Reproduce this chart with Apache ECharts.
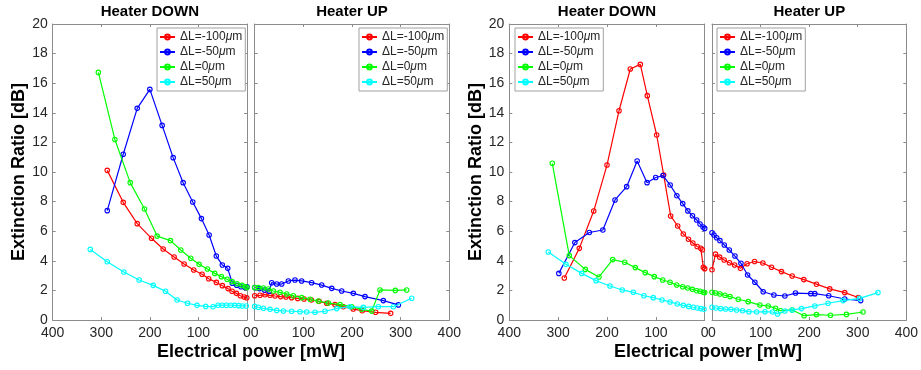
<!DOCTYPE html>
<html>
<head>
<meta charset="utf-8">
<script src="https://cdn.jsdelivr.net/npm/echarts@6/dist/echarts.min.js"></script>
<style>
html,body{margin:0;padding:0;background:#fff;}
#c{width:921px;height:370px;}
</style>
</head>
<body>
<div id="c"></div>
<script>
// ---- data: [electrical power (mW), extinction ratio (dB)] ----
const seriesNames = ['ΔL=-100μm', 'ΔL=-50μm', 'ΔL=0μm', 'ΔL=50μm'];
const panelTitles = ['Heater DOWN', 'Heater UP', 'Heater DOWN', 'Heater UP'];
const xTickValues = [0, 100, 200, 300, 400];
const yTickValues = [0, 2, 4, 6, 8, 10, 12, 14, 16, 18, 20];

// Figure A, heater DOWN
const aDownRed = [[287.7,10.11],[254.8,7.95],[226,6.51],[196.6,5.52],[172.6,4.8],[150,4.26],[129.5,3.78],[109.6,3.38],[92.5,3.09],[78.8,2.79],[63,2.54],[50.7,2.32],[39,2.12],[30.8,1.94],[21.9,1.8],[13.7,1.64],[5.5,1.55],[0.5,1.5]];
const aDownBlue = [[287.7,7.39],[254.8,11.2],[226,14.3],[200,15.58],[174.7,13.15],[152,10.97],[131.5,9.28],[111.7,7.97],[93.8,6.85],[78,5.74],[63.2,4.32],[50.8,3.72],[39.7,3.49],[30.2,2.48],[21.2,2.35],[12.4,2.25],[4,2.2],[0,2.25]];
const aDownGreen = [[306,16.73],[272,12.2],[240.4,9.28],[211,7.5],[185,5.67],[157.5,5.36],[136.3,4.73],[115.8,4.17],[98.6,3.76],[81.5,3.45],[66.4,3.15],[52.7,2.93],[41,2.75],[30.8,2.59],[20.5,2.45],[10.3,2.34],[3.4,2.25],[0,2.2]];
const aDownCyan = [[322.6,4.77],[287.7,3.94],[253.5,3.24],[222,2.7],[193,2.34],[167.8,1.94],[143.9,1.35],[122.6,1.13],[102.8,0.99],[85,0.92],[70,0.9],[59.6,1.0],[50.7,1.0],[42.5,1.0],[33.6,1.0],[25.3,0.99],[17,0.97],[9.6,0.95],[1.4,0.95]];
// Figure A, heater UP
const aUpRed = [[0,1.64],[11,1.67],[21.2,1.71],[31.5,1.67],[41.8,1.62],[53.4,1.58],[64.4,1.55],[76,1.51],[88.4,1.46],[101.4,1.42],[116.5,1.35],[132.3,1.26],[148,1.13],[165,1.04],[182,0.9],[202.5,0.74],[221,0.63],[248.6,0.52],[279.5,0.45]];
const aUpBlue = [[0,2.2],[10,2.12],[20,2.03],[30,1.95],[34.9,2.52],[45.2,2.43],[55.5,2.43],[69.2,2.64],[82.8,2.7],[96.5,2.64],[117,2.52],[137.7,2.36],[158.3,2.14],[178.8,1.96],[202.7,1.8],[226.7,1.58],[264.4,1.31],[295.3,1.02]];
const aUpGreen = [[0,2.2],[7.5,2.2],[17.8,2.16],[28,2.09],[38.4,1.96],[52,1.87],[65.8,1.76],[79.5,1.64],[96.6,1.51],[113.7,1.4],[130.8,1.28],[151.4,1.15],[175.4,1.04],[199.4,0.9],[220,0.72],[240.4,0.6],[257.6,2.03],[289,2.0],[312.4,2.03]];
const aUpCyan = [[0,0.92],[7.5,0.86],[17.8,0.79],[31.5,0.72],[45.2,0.65],[58.9,0.61],[76,0.59],[93.1,0.56],[106.8,0.54],[124,0.52],[144.5,0.59],[168.5,0.77],[195.9,0.9],[223.3,0.85],[254,0.9],[285,0.9],[322.7,1.47]];
// Figure B, heater DOWN
const bDownRed = [[287.4,2.84],[256.7,4.84],[227.2,7.36],[200,10.47],[175.4,14.14],[152.3,16.96],[131.8,17.27],[117.5,15.16],[98.3,12.5],[84,9.8],[69.7,7.03],[55.3,6.35],[43.8,5.81],[33.2,5.46],[24.3,5.2],[15.4,4.97],[8,4.85],[4.8,4.75],[2.8,3.56],[0,3.47]];
const bDownBlue = [[298.6,3.15],[265.8,5.23],[236.2,5.91],[208.5,6.08],[183.6,8.11],[159.7,9.01],[138.3,10.74],[118,9.28],[100.3,9.63],[85.4,9.76],[70.7,9.12],[57,8.4],[45,7.86],[34.5,7.37],[25,7.04],[16.4,6.76],[9.6,6.49],[3.4,6.28],[0,6.19]];
const bDownGreen = [[312,10.59],[277.2,4.35],[244.4,3.42],[216.4,2.91],[188.3,4.08],[163.8,3.9],[142,3.54],[121.6,3.2],[103.2,2.93],[86,2.7],[71,2.55],[57.3,2.36],[45,2.25],[34.8,2.16],[25.4,2.07],[16.4,1.98],[9.6,1.94],[2.8,1.87],[0,1.85]];
const bDownCyan = [[320.2,4.59],[284,3.76],[251.8,3.15],[222.5,2.66],[193.9,2.3],[168.7,2.03],[146.1,1.87],[124.3,1.64],[105.2,1.51],[87.4,1.35],[71,1.22],[56,1.08],[43.8,0.99],[32.8,0.92],[23.3,0.86],[15.1,0.81],[7.6,0.77],[1.4,0.72]];
// Figure B, heater UP
const bUpRed = [[0,3.4],[7.2,4.45],[15.7,4.25],[25,4.05],[36,3.87],[46.5,3.72],[58.5,3.49],[72.2,3.8],[87.6,3.95],[104.7,3.85],[122.5,3.56],[143.1,3.27],[165,2.97],[189,2.73],[215,2.42],[242.4,2.1],[273.2,1.85],[301.3,1.52]];
const bUpBlue = [[0,5.9],[4.1,5.74],[9.6,5.56],[16.4,5.36],[25.3,5.07],[35.6,4.73],[47.2,4.32],[59.6,3.83],[73.3,3.04],[88.3,2.55],[105.4,1.91],[127.4,1.69],[150,1.62],[171.9,1.82],[203.4,1.78],[211.6,1.78],[240.3,1.64],[273.2,1.42],[306,1.31]];
const bUpGreen = [[0,1.87],[7.6,1.82],[16.4,1.76],[26.7,1.67],[37,1.58],[54,1.4],[74.6,1.24],[98.6,1.01],[115.7,0.95],[130.8,0.79],[141.1,0.63],[165,0.68],[189.7,0.29],[215,0.36],[243.8,0.32],[276.7,0.38],[310.9,0.54]];
const bUpCyan = [[0,0.86],[8.2,0.81],[17.8,0.77],[28,0.74],[39,0.72],[50.7,0.68],[63,0.63],[76,0.56],[91.8,0.54],[108.9,0.56],[124.6,0.54],[134.9,0.41],[150,0.61],[165,0.68],[184.2,0.77],[211.6,0.95],[239,1.13],[269.8,1.31],[304,1.46],[341.7,1.85]];

const panelData = [
  [aDownRed, aDownBlue, aDownGreen, aDownCyan],
  [aUpRed, aUpBlue, aUpGreen, aUpCyan],
  [bDownRed, bDownBlue, bDownGreen, bDownCyan],
  [bUpRed, bUpBlue, bUpGreen, bUpCyan]
];

// ---- styling / layout ----
const colors = ['#ff0000', '#0000ff', '#00ff00', '#00ffff'];
const FONT = '"Liberation Sans", Arial, Helvetica, sans-serif';
const TXT = '#262626';
const BOX = '#8c8c8c';
const grids = [
  {left: 52.7, top: 24, width: 194.3, height: 296},
  {left: 254.7, top: 24, width: 194.6, height: 296},
  {left: 509.3, top: 24, width: 195.4, height: 296},
  {left: 712, top: 24, width: 194.7, height: 296}
];
const isDown = [true, false, true, false];
const legendPos = [
  {left: 157, top: 28},
  {left: 359, top: 28},
  {left: 515, top: 28},
  {left: 717, top: 28}
];

const xAxes = [], yAxes = [], series = [], legends = [];
grids.forEach((g, i) => {
  const tick = {show: true, inside: true, length: 3, lineStyle: {color: BOX}};
  const line = {show: true, onZero: false, lineStyle: {color: BOX, width: 1}};
  const xBase = {type: 'value', gridIndex: i, min: xTickValues[0], max: xTickValues[xTickValues.length - 1],
    interval: xTickValues[1] - xTickValues[0], inverse: isDown[i], splitLine: {show: false},
    axisLine: line, axisTick: tick};
  xAxes.push(Object.assign({}, xBase, {position: 'bottom',
    axisLabel: {show: true, fontSize: 14, color: TXT, fontFamily: FONT, margin: 6}}));
  xAxes.push(Object.assign({}, xBase, {position: 'top', axisLabel: {show: false}}));
  const yBase = {type: 'value', gridIndex: i, min: yTickValues[0], max: yTickValues[yTickValues.length - 1],
    interval: yTickValues[1] - yTickValues[0], splitLine: {show: false}, axisLine: line, axisTick: tick};
  const yLeft = Object.assign({}, yBase, {position: 'left',
    axisLabel: {show: isDown[i], fontSize: 14, color: TXT, fontFamily: FONT, margin: 5}});
  if (isDown[i]) {
    Object.assign(yLeft, {name: 'Extinction Ratio [dB]', nameLocation: 'middle', nameGap: 22,
      nameTextStyle: {fontSize: 18, fontWeight: 'bold', color: '#000', fontFamily: FONT}});
  }
  yAxes.push(yLeft);
  yAxes.push(Object.assign({}, yBase, {position: 'right', axisLabel: {show: false}}));

  panelData[i].forEach((d, k) => {
    series.push({
      type: 'line', name: seriesNames[k], data: d,
      xAxisIndex: i * 2, yAxisIndex: i * 2,
      symbol: 'circle', symbolSize: 4.5, showSymbol: true,
      lineStyle: {color: colors[k], width: 1.2},
      itemStyle: {color: 'rgba(255,255,255,0)', borderColor: colors[k], borderWidth: 1.1},
      emphasis: {disabled: true}, animation: false, z: 2 + k
    });
  });

  legends.push({
    show: true, data: seriesNames, orient: 'vertical',
    left: legendPos[i].left, top: legendPos[i].top,
    backgroundColor: '#fff', borderColor: '#a0a0a0', borderWidth: 1,
    padding: [3, 3, 3, 2], itemGap: 3, itemWidth: 15, itemHeight: 6,
    selectedMode: false,
    formatter: (n) => n.replace('μ', '{i|μ}'),
    textStyle: {fontSize: 12, color: TXT, fontFamily: FONT, lineHeight: 12,
      rich: {i: {fontSize: 12, fontStyle: 'italic', color: TXT, fontFamily: FONT}}}
  });
});

const graphics = [];
grids.forEach((g, i) => {
  graphics.push({type: 'text', x: g.left + g.width / 2, y: 12, silent: true,
    style: {text: panelTitles[i], font: 'bold 15px ' + FONT, fill: '#000',
      textAlign: 'center', textVerticalAlign: 'middle'}});
});
[[grids[0], grids[1]], [grids[2], grids[3]]].forEach(([a, b]) => {
  graphics.push({type: 'text', x: (a.left + b.left + b.width) / 2, y: 352, silent: true,
    style: {text: 'Electrical power [mW]', font: 'bold 18px ' + FONT, fill: '#000',
      textAlign: 'center', textVerticalAlign: 'middle'}});
});

const chart = echarts.init(document.getElementById('c'), null, {renderer: 'canvas'});
chart.setOption({
  animation: false,
  backgroundColor: '#fff',
  grid: grids.map(g => Object.assign({containLabel: false}, g)),
  xAxis: xAxes,
  yAxis: yAxes,
  legend: legends,
  series: series,
  graphic: graphics
});
</script>
</body>
</html>
